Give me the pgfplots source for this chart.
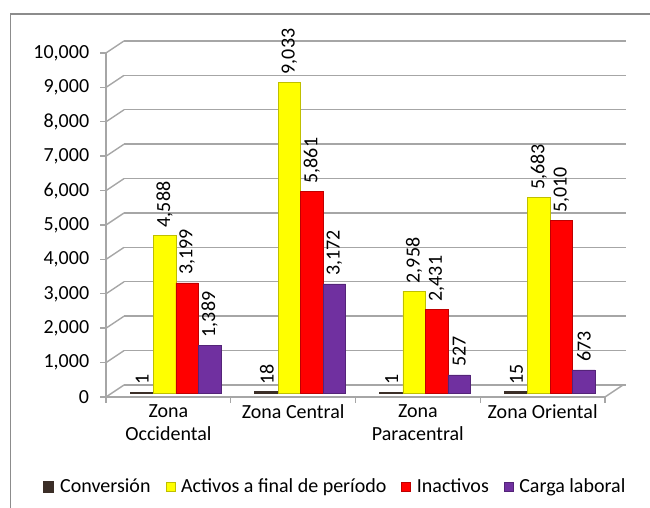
\documentclass[border=0pt]{standalone}
\usepackage{fontspec}
\setmainfont{Carlito}
\usepackage{pgfplots}
\pgfplotsset{compat=1.18}
\definecolor{conv}{HTML}{3B2E27}
\definecolor{yel}{HTML}{FFFF00}
\definecolor{redc}{HTML}{FF0000}
\definecolor{purp}{HTML}{7030A0}
\definecolor{gridc}{HTML}{A6A6A6}
\definecolor{framec}{HTML}{8C8C8C}
\pgfplotsset{/pgf/number format/.cd, 1000 sep={,}, assume math mode=true}
\pgfplotsset{sqlegend/.style={legend image code/.code={\fill[##1] (0bp,-4.5bp) rectangle (9bp,4.5bp);}}}
\newcommand{\cf}{\fontsize{20bp}{23bp}\selectfont}
\begin{document}
\cf
\begin{tikzpicture}[x=1bp,y=1bp]
\useasboundingbox (0,0) rectangle (650,508);
\draw[framec, line width=1.2bp] (10.5,0) -- (10.5,494) -- (650,494);

% back wall grid
\begin{axis}[at={(124bp,123bp)}, anchor=south west, scale only axis,
  width=502bp, height=344bp, xmin=0, xmax=1, ymin=0, ymax=10000,
  xtick=\empty, ytick={0,1000,...,10000}, yticklabels={}, scaled y ticks=false,
  axis line style={draw=none}, major tick length=0pt,
  ymajorgrids, grid style={gridc, line width=1.4bp}]
\addplot[draw=none] coordinates {(0,0)};
\end{axis}

% front axis
\begin{axis}[at={(106bp,111bp)}, anchor=south west, scale only axis,
  width=499bp, height=344bp, xmin=-0.5, xmax=3.5, ymin=0, ymax=10000,
  axis x line*=bottom, axis y line*=left,
  axis line style={gridc, line width=1.4bp, -},
  xtick={-0.5,0.5,1.5,2.5,3.5}, x tick label as interval,
  xticklabels={{Zona\\Occidental},{Zona Central},{Zona\\Paracentral},{Zona Oriental}},
  xticklabel style={align=center, font=\cf, text=black, yshift=5bp},
  ytick={0,1000,...,10000}, scaled y ticks=false,
  yticklabel style={font=\cf, text=black, xshift=-4bp},
  tick align=outside, major tick length=6bp,
  tick style={gridc, line width=1.4bp}, clip=false]
\addplot[draw=none] coordinates {(0,0)};
\pgfplotsinvokeforeach{0,1000,...,10000}{
  \draw[gridc, line width=1.4bp] (axis cs:-0.5,#1) -- ++(18bp,12bp);
}
\draw[gridc, line width=1.4bp] (axis cs:3.5,0) -- ++(18bp,12bp);
\end{axis}

% bars
\begin{axis}[at={(113.5bp,115bp)}, anchor=south west, scale only axis,
  width=499bp, height=344bp, xmin=-0.5, xmax=3.5, ymin=0, ymax=10000,
  hide axis, clip=false, ybar=0pt, bar width=22.5bp,
  nodes near coords,
  every node near coord/.append style={rotate=90, anchor=west, text=black,
     font=\cf, inner sep=2bp, outer sep=6bp},
  legend columns=4,
  legend style={at={(0.444,-0.273)}, anchor=center, draw=none, fill=none,
     font=\cf, /tikz/every even column/.append style={column sep=13bp},
     /tikz/every odd column/.append style={column sep=4bp}},
  sqlegend]
\addplot[fill=conv, draw=conv, line width=2.5bp] coordinates {(0,1) (1,18) (2,1) (3,15)};
\addplot[fill=yel, draw=yel!75!black, line width=0.5bp] coordinates {(0,4588) (1,9033) (2,2958) (3,5683)};
\addplot[fill=redc, draw=redc!75!black, line width=0.5bp] coordinates {(0,3199) (1,5861) (2,2431) (3,5010)};
\addplot[fill=purp, draw=purp!75!black, line width=0.5bp] coordinates {(0,1389) (1,3172) (2,527) (3,673)};
\legend{Conversión, Activos a final de período, Inactivos, Carga laboral}
\end{axis}
\end{tikzpicture}
\end{document}
